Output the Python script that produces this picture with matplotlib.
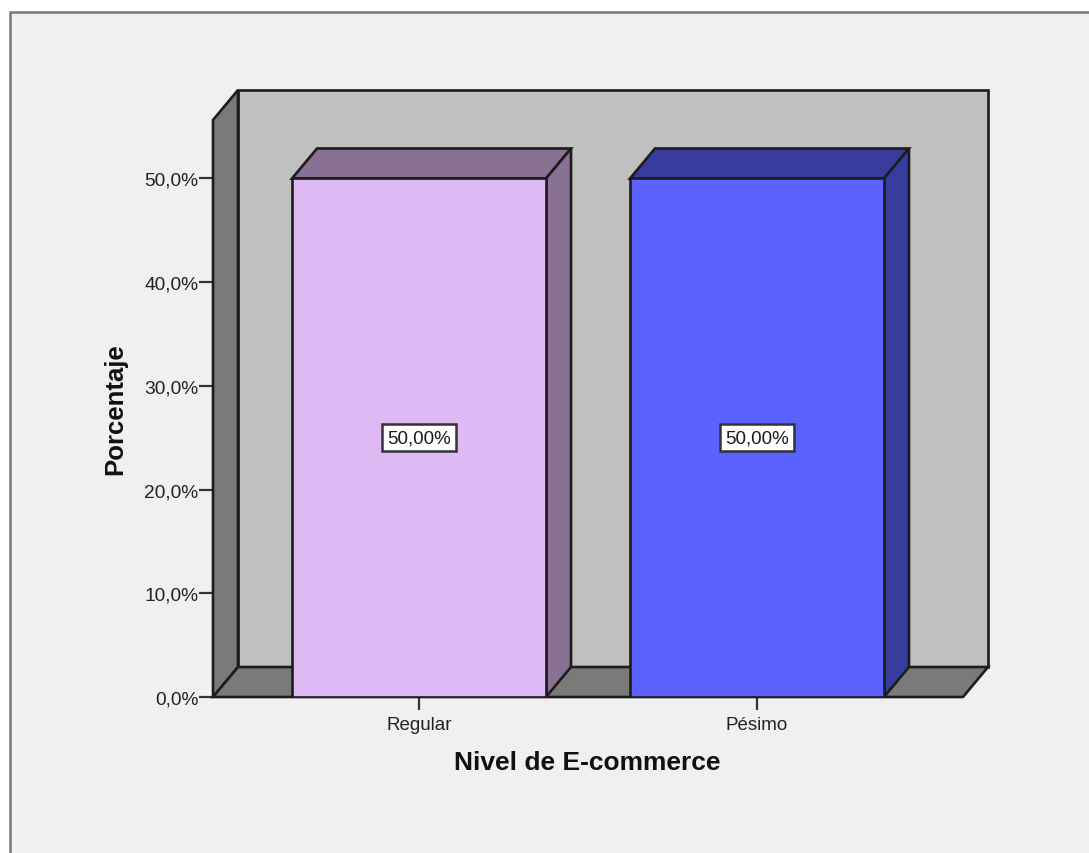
import matplotlib
matplotlib.use('Agg')
import matplotlib.pyplot as plt
from matplotlib.patches import Rectangle

plt.rcParams['font.family'] = ['Liberation Sans', 'DejaVu Sans']

# Data
categories = ['Regular', 'Pésimo']
values = [50.0, 50.0]
value_labels = ['50,00%', '50,00%']
ytick_values = [0, 10, 20, 30, 40, 50]
ytick_labels = ['0,0%', '10,0%', '20,0%', '30,0%', '40,0%', '50,0%']

# Colours
front_colors = ['#DFB9F3', '#5C62FF']
side_colors = ['#8A7095', '#383C9C']
edge = '#1c1c1c'
lw = 1.9

W, H = 1089, 854
fig = plt.figure(figsize=(W / 100, H / 100), dpi=100, facecolor='white')

# Grey panel, runs off the right and bottom of the picture
fig.add_artist(Rectangle((10 / W, -0.1), 1.2, 1.1 - 12.5 / H, transform=fig.transFigure,
                         facecolor='#F0F0F0', edgecolor='#777777', linewidth=1.8, zorder=-1))

# Axes is the front plane of the 3D box
ax = fig.add_axes([213 / W, 1 - 698 / H, 750 / W, 577 / H])
ax.patch.set_visible(False)
ax.set_xlim(-0.6095, 1.6095)
ax.set_ylim(0, 55.64)
xmin, xmax = ax.get_xlim()
ytop = ax.get_ylim()[1]

# Depth offset of the box, 25 px across and 30 px up
dx = 25 / 338
dy = 30 / 10.37
bar_width = 254 / 338

# Walls
ax.fill([xmin + dx, xmax + dx, xmax + dx, xmin + dx], [dy, dy, ytop + dy, ytop + dy],
        facecolor='#C0C0C0', edgecolor=edge, linewidth=lw, clip_on=False, zorder=1)
ax.fill([xmin, xmin + dx, xmin + dx, xmin], [0, dy, ytop + dy, ytop],
        facecolor='#7A7A7A', edgecolor=edge, linewidth=lw, clip_on=False, zorder=2)
ax.fill([xmin, xmax, xmax + dx, xmin + dx], [0, 0, dy, dy],
        facecolor='#7A7A7A', edgecolor=edge, linewidth=lw, clip_on=False, zorder=2)

# Bars with top and side faces
positions = range(len(categories))
ax.bar(positions, values, width=bar_width, color=front_colors, edgecolor=edge,
       linewidth=lw, zorder=4)
for i in positions:
    left = i - bar_width / 2
    right = i + bar_width / 2
    v = values[i]
    ax.fill([left, right, right + dx, left + dx], [v, v, v + dy, v + dy],
            facecolor=side_colors[i], edgecolor=edge, linewidth=lw, clip_on=False, zorder=3)
    ax.fill([right, right + dx, right + dx, right], [0, dy, v + dy, v],
            facecolor=side_colors[i], edgecolor=edge, linewidth=lw, clip_on=False, zorder=3)
    ax.text(i, v / 2, value_labels[i], ha='center', va='center', fontsize=13.5, color='#1a1a1a',
            zorder=5, bbox=dict(boxstyle='square,pad=0.27', facecolor='white',
                                edgecolor='#333333', linewidth=1.8))

# Axes
for s in ax.spines.values():
    s.set_visible(False)
ax.set_xticks(list(positions))
ax.set_xticklabels(categories)
ax.set_yticks(ytick_values)
ax.set_yticklabels(ytick_labels)
ax.tick_params(axis='x', length=9.5, width=1.6, color='#333333', labelsize=13.5,
               labelcolor='#222222', pad=4.5)
ax.tick_params(axis='y', length=10, width=1.6, color='#333333', labelsize=13.8,
               labelcolor='#222222', pad=0.5)

fig.text(587 / W, 1 - 763 / H, 'Nivel de E-commerce', ha='center', va='center',
         fontsize=19, fontweight='bold', color='#111111')
fig.text(115 / W, 1 - 409 / H, 'Porcentaje', ha='center', va='center', rotation=90,
         fontsize=18.5, fontweight='bold', color='#111111')

fig.savefig('out.png', dpi=100)
